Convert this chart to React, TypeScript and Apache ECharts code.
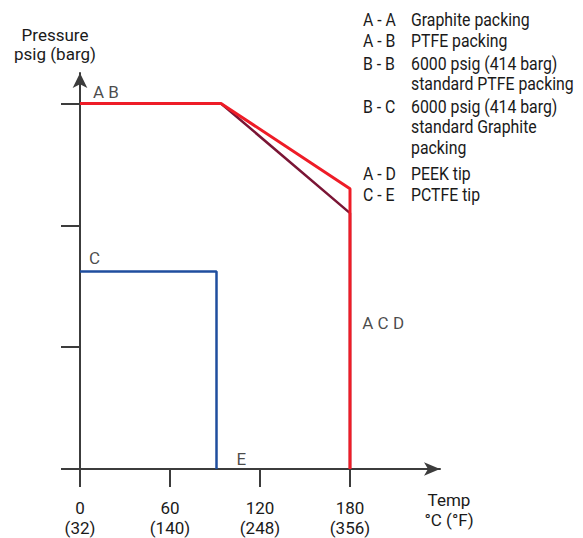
import React, { useEffect, useRef } from "react";
import * as echarts from "echarts";

// Temperature ticks (°C) and their °F equivalents
const tempTicksC = [0, 60, 120, 180];
const tempTicksF = ["(32)", "(140)", "(248)", "(356)"];
// Pressure ticks (psig), unlabeled in the chart
const pressureTicks = [0, 2000, 4000, 6000];

// Curves: [temp °C, pressure psig]
const redCurve = [
  [0, 6000],
  [94, 6000],
  [180, 4600],
  [180, 0],
];
const maroonCurve = [
  [94, 6000],
  [180, 4200],
  [180, 0],
];
const blueCurve = [
  [0, 3240],
  [91, 3240],
  [91, 0],
];

// Point annotations: [temp, pressure, text]
const pointLabels: [number, number, string][] = [
  [8.7, 6190, "A B"],
  [6, 3470, "C"],
  [188.2, 2392, "A C D"],
  [104.4, 170, "E"],
];

// Key: code and description lines
const keyCodes = ["A - A", "A - B", "B - B", "", "B - C", "", "", "A - D", "C - E"];
const keyDescs = [
  "Graphite packing",
  "PTFE packing",
  "6000 psig (414 barg)",
  "standard PTFE packing",
  "6000 psig (414 barg)",
  "standard Graphite",
  "packing",
  "PEEK tip",
  "PCTFE tip",
];
const keyRowY = [20, 41, 64, 84, 107, 127, 148, 174, 195];

const FONT = "Roboto";
const TXT = "#1a1a1a";
const AXIS = "#3c3c3c";

export default function App() {
  const ref = useRef<HTMLDivElement>(null);
  useEffect(() => {
    if (!ref.current) return;
    const chart = echarts.init(ref.current, undefined, { renderer: "svg" });

    const keyStyle = { fontFamily: FONT, fontSize: 18, fill: TXT, verticalAlign: "middle" };
    const graphics: any[] = [];
    keyRowY.forEach((y, i) => {
      if (keyCodes[i]) {
        graphics.push({
          type: "text",
          x: 363,
          y,
          scaleX: 0.88,
          style: { ...keyStyle, text: keyCodes[i] },
        });
      }
      graphics.push({
        type: "text",
        x: 411,
        y,
        scaleX: 0.88,
        style: { ...keyStyle, text: keyDescs[i] },
      });
    });
    graphics.push({
      type: "text",
      x: 55,
      y: 44,
      style: {
        text: "Pressure\npsig (barg)",
        fontFamily: FONT,
        fontSize: 17,
        lineHeight: 19,
        fill: TXT,
        align: "center",
        verticalAlign: "middle",
      },
    });
    graphics.push({
      type: "text",
      x: 449,
      y: 510,
      style: {
        text: "Temp\n°C (°F)",
        fontFamily: FONT,
        fontSize: 17,
        lineHeight: 20,
        fill: TXT,
        align: "center",
        verticalAlign: "middle",
      },
    });

    chart.setOption({
      animation: false,
      backgroundColor: "#ffffff",
      grid: { left: 80, right: 143, top: 73, bottom: 69 },
      xAxis: {
        type: "value",
        min: 0,
        max: 240,
        splitLine: { show: false },
        axisLine: {
          show: true,
          symbol: ["none", "arrow"],
          symbolSize: [10, 16],
          lineStyle: { color: AXIS, width: 2 },
        },
        axisTick: {
          show: true,
          length: 18,
          customValues: tempTicksC,
          lineStyle: { color: AXIS, width: 2 },
        },
        axisLabel: {
          show: true,
          customValues: tempTicksC,
          margin: 29,
          fontFamily: FONT,
          fontSize: 17,
          lineHeight: 20,
          color: TXT,
          formatter: (v: number) => {
            const i = tempTicksC.indexOf(v);
            return i >= 0 ? `${v}\n${tempTicksF[i]}` : "";
          },
        },
      },
      yAxis: {
        type: "value",
        min: 0,
        max: 6500,
        splitLine: { show: false },
        axisLine: {
          show: true,
          symbol: ["none", "arrow"],
          symbolSize: [11, 15],
          lineStyle: { color: AXIS, width: 2 },
        },
        axisTick: {
          show: true,
          length: 19,
          customValues: pressureTicks,
          lineStyle: { color: AXIS, width: 2 },
        },
        axisLabel: { show: false },
      },
      graphic: graphics,
      series: [
        {
          type: "line",
          data: blueCurve,
          symbol: "none",
          lineStyle: { color: "#1f4e9e", width: 2.5 },
          z: 3,
        },
        {
          type: "line",
          data: maroonCurve,
          symbol: "none",
          lineStyle: { color: "#7a1535", width: 2.5 },
          z: 3,
        },
        {
          type: "line",
          data: redCurve,
          symbol: "none",
          lineStyle: { color: "#ee1c27", width: 3 },
          z: 4,
        },
        {
          type: "scatter",
          data: pointLabels,
          symbolSize: 0,
          silent: true,
          label: {
            show: true,
            position: "right",
            distance: 0,
            formatter: (p: any) => p.data[2],
            fontFamily: FONT,
            fontSize: 17,
            color: TXT,
          },
          z: 5,
        },
      ],
    });
    return () => chart.dispose();
  }, []);
  return (
    <div
      ref={ref}
      style={{ position: "absolute", left: 0, top: 0, width: 583, height: 538 }}
    />
  );
}
